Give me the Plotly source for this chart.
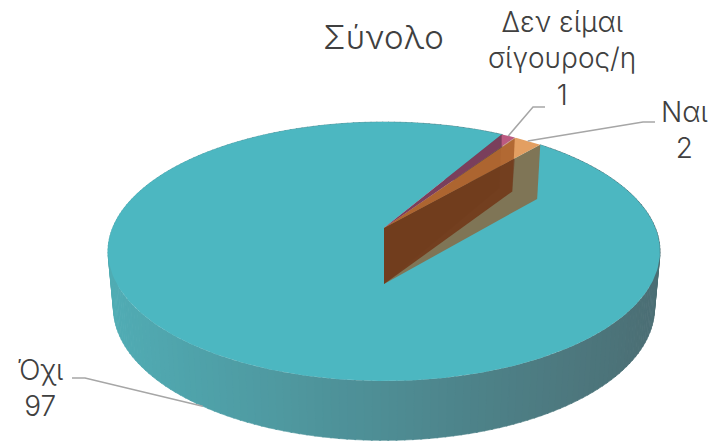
import numpy as np
import plotly.graph_objects as go

# ---- data ----
categories = ["Όχι", "Δεν είμαι<br>σίγουρος/η", "Ναι"]
values = [97, 1, 2]
title_text = "Σύνολο"

# ---- view of the 3D pie ----
FIRST_ANGLE = 40.9
CX = 384
Y_TOP, Y_BOT = 228, 284
A_TOP, B_TOP = 271.4, 125.2
A_BOT, B_BOT = 266.0, 128.0
P = 0.1815
FONT = "Inter"
TEXT = "#404040"


def rim(deg, level="top"):
    t = np.radians(deg)
    u, v = np.sin(t), np.cos(t)
    w = 1 + P * v
    if level == "top":
        return CX + A_TOP * u / w, Y_TOP - B_TOP * v / w
    return CX + A_BOT * u / w, Y_BOT - B_BOT * v / w


total = sum(values)
bounds = [FIRST_ANGLE]
for val in values:
    bounds.append(bounds[-1] + val / total * 360)

no_a, no_b = bounds[0], bounds[1]
unsure_a, unsure_b = bounds[1], bounds[2]
yes_a, yes_b = bounds[2], bounds[3]

fig = go.Figure()


def poly(xs, ys, color):
    fig.add_trace(go.Scatter(
        x=list(xs), y=list(ys), mode="lines", fill="toself", fillcolor=color,
        line=dict(width=0, color=color), hoverinfo="skip", showlegend=False))


def lerp(c1, c2, t):
    return "rgb(%d,%d,%d)" % tuple(round(a + (b - a) * t) for a, b in zip(c1, c2))


# side wall
steps = np.linspace(no_a, no_b, 241)
SIDE_L, SIDE_R = (80, 172, 180), (76, 110, 116)
for a, b in zip(steps[:-1], steps[1:]):
    b2 = b + 0.25
    x1, y1 = rim(a, "top")
    x2, y2 = rim(b2, "top")
    x3, y3 = rim(b2, "bot")
    x4, y4 = rim(a, "bot")
    col = lerp(SIDE_L, SIDE_R, float(np.clip((x4 - 116) / 540, 0, 1)))
    fig.add_trace(go.Scatter(
        x=[x1, x2, x3, x4, x1], y=[y1, y2, y3, y4, y1], mode="lines",
        fill="toself", fillcolor=col, line=dict(width=0.6, color=col),
        hoverinfo="skip", showlegend=False))


def sector(a, b, color, n=400):
    th = np.linspace(a, b, n)
    xs, ys = rim(th, "top")
    poly(np.r_[CX, xs, CX], np.r_[Y_TOP, ys, Y_TOP], color)


def wall(deg, color):
    xt, yt = rim(deg, "top")
    xb, yb = rim(deg, "bot")
    poly([CX, CX, xb, xt, CX], [Y_TOP, Y_BOT, yb, yt, Y_TOP], color)


# top of the big slice
sector(no_a, no_b, "#4cb7c1")
# wedge interior
wall(yes_b, "#7f7556")
sector(yes_a, yes_b, "#e39f62", 30)
sector(unsure_a, unsure_b, "#bb5a80", 30)
wall(yes_a, "rgba(125,45,0,0.48)")
wall(unsure_a, "rgba(90,30,0,0.05)")
# deeper shade where the near wall overlaps the far wall
xw, yw = rim(yes_a, "top")
xf, yf = rim(yes_b, "top")
xl, yl = rim(yes_a, "bot")
poly([CX, CX, xl, xw, CX],
     [Y_TOP, Y_BOT, yl, Y_TOP + (yf - Y_TOP) * (xw - CX) / (xf - CX), Y_TOP],
     "rgba(95,25,5,0.35)")
# the part of the purple slice seen through its near wall
xa, ya = rim(unsure_a, "top")
xb, yb = rim(unsure_b, "top")
k = (xa - CX) / (xb - CX)
poly([CX, xa, xa, CX], [Y_TOP, ya, Y_TOP + (yb - Y_TOP) * k, Y_TOP], "#7a3f5c")

# leader lines
LINE = "#a6a6a6"
leaders = [
    (rim((no_a + no_b) / 2, "bot"), [(85, 378), (72, 378)]),
    (rim((unsure_a + unsure_b) / 2, "top"), [(533, 107), (545, 107)]),
    (rim((yes_a + yes_b) / 2, "top"), [(643, 122), (655, 122)]),
]
for start, pts in leaders:
    fig.add_trace(go.Scatter(
        x=[start[0]] + [p[0] for p in pts], y=[start[1]] + [p[1] for p in pts],
        mode="lines", line=dict(color=LINE, width=1.5),
        hoverinfo="skip", showlegend=False))

# labels
labels = [
    (f"{categories[0]}<br>{values[0]}", 40, 388),
    (f"{categories[1]}<br>{values[1]}", 562, 58),
    (f"{categories[2]}<br>{values[2]}", 684, 130),
]
annos = [dict(x=x, y=y, text=t, xref="x", yref="y", showarrow=False,
              xanchor="center", yanchor="middle", align="center",
              font=dict(family=FONT, size=28, color=TEXT, weight=300))
         for t, x, y in labels]
annos.append(dict(x=383, y=37, text=title_text, xref="x", yref="y", showarrow=False,
                  xanchor="center", yanchor="middle",
                  font=dict(family=FONT, size=33, color=TEXT, weight=300)))

fig.update_layout(
    width=711, height=445, margin=dict(l=0, r=0, t=0, b=0),
    paper_bgcolor="white", plot_bgcolor="white", showlegend=False,
    xaxis=dict(range=[0, 711], visible=False, fixedrange=True),
    yaxis=dict(range=[445, 0], visible=False, fixedrange=True),
    annotations=annos,
)
fig.write_html("out.html", config={"displayModeBar": False},
               post_script="document.body.style.margin='0';document.body.style.overflow='hidden';")
